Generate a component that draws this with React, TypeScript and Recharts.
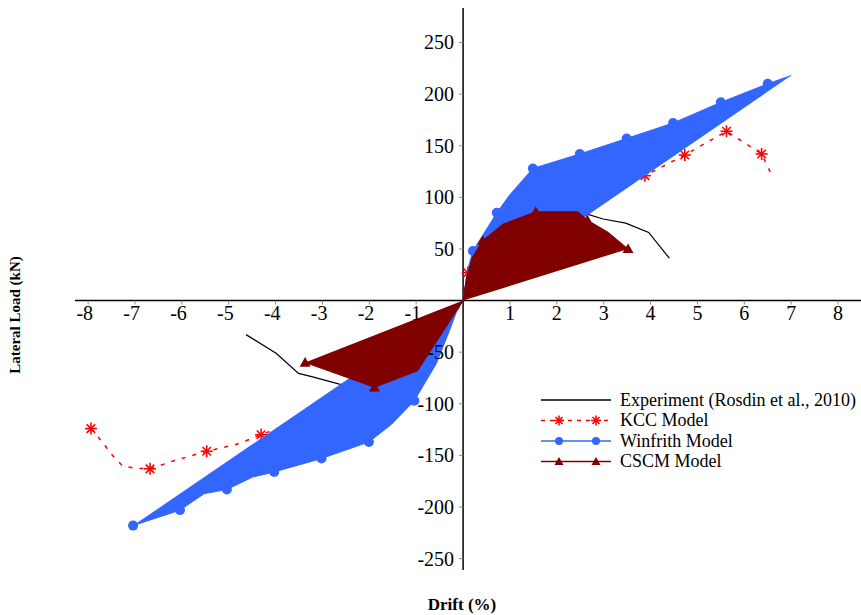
import React from "react";
import { ComposedChart, Scatter, XAxis, YAxis, ReferenceLine } from "recharts";

const W = 861;
const H = 615;
const M = { top: 8, right: 0, bottom: 44, left: 74 };
const X_DOMAIN: [number, number] = [-8.28, 8.49];
const Y_DOMAIN: [number, number] = [-261, 283.4];

const FONT = '"Liberation Serif", "Times New Roman", Times, serif';
const BLUE = "#3366ff";
const DARKRED = "#800000";
const RED = "#ff0000";

const xTicks = [-8, -7, -6, -5, -4, -3, -2, -1, 1, 2, 3, 4, 5, 6, 7, 8];
const yTicks = [-250, -200, -150, -100, -50, 50, 100, 150, 200, 250];

// [drift %, load kN, marker?]
const experiment = [
  [-4.63, -33], [-3.99, -51], [-3.51, -70.6], [-3.21, -74], [-2.64, -81],
  [-2.0, -84], [-1.0, -60], [-0.3, -20], [0, 0], [0.3, 35], [1.0, 65],
  [2.0, 82], [2.5, 86], [2.63, 84], [2.99, 79], [3.47, 75], [3.96, 66], [4.4, 41],
];

const kcc = [
  [-7.94, -124, 1], [-7.7, -137], [-7.48, -150], [-7.27, -160], [-6.98, -162.5],
  [-6.68, -163, 1], [-6.16, -155], [-5.47, -146, 1], [-4.81, -139], [-4.31, -130, 1],
  [-3.2, -110, 1], [-2.2, -88, 1], [-1.2, -60, 1], [-0.3, -22], [0, 0],
  [0.1, 27, 1], [0.9, 65, 1], [2.0, 90, 1], [3.0, 106, 1], [3.88, 121, 1],
  [4.73, 141, 1], [5.62, 164, 1], [6.37, 142, 1], [6.56, 124],
];

const winfrithPos = [
  [0, 0], [0.1, 30], [0.21, 48, 1], [0.72, 85, 1], [0.99, 102], [1.49, 128, 1],
  [2.49, 142, 1], [3.49, 157, 1], [4.48, 172, 1], [5.5, 192, 1], [6.5, 210, 1], [7.0, 218],
];
const winfrithNeg = [
  [0, 0], [-0.1, -6], [-0.29, -29], [-0.57, -61], [-1.04, -97, 1], [-1.53, -120],
  [-2.01, -137, 1], [-3.02, -153, 1], [-4.03, -166, 1], [-4.49, -171], [-5.04, -183, 1],
  [-5.52, -187], [-6.04, -203, 1], [-7.04, -218, 1],
];

const cscmPos = [
  [0, 0], [0.07, 22], [0.2, 42], [0.42, 58, 1], [0.85, 74], [1.55, 86, 1],
  [2.45, 86], [2.65, 78, 1], [3.1, 66], [3.52, 50, 1],
];
const cscmNeg = [[0, 0], [-0.97, -68], [-1.89, -84, 1], [-3.37, -60, 1]];

const pts = (a: number[][]) => a.map(([x, y, m]) => ({ x, y, m: !!m }));

// where the zero lines fall inside the plot area (axes cross at the origin)
const plotL = M.left + 1;
const plotW = W - plotL - M.right;
const plotH = H - M.top - M.bottom - 1;
const zeroX = plotL + (plotW * (0 - X_DOMAIN[0])) / (X_DOMAIN[1] - X_DOMAIN[0]);
const zeroY = M.top + (plotH * Y_DOMAIN[1]) / (Y_DOMAIN[1] - Y_DOMAIN[0]);

function XTick({ x, payload }: any) {
  return (
    <g>
      <line x1={x} x2={x} y1={zeroY} y2={zeroY + 4} stroke="#888" />
      <text x={x + 5} y={zeroY + 19} textAnchor="end" fontSize={20} fontFamily={FONT} fill="#000">
        {payload.value}
      </text>
    </g>
  );
}

function YTick({ y, payload }: any) {
  return (
    <g>
      <line x1={zeroX} x2={zeroX - 4} y1={y} y2={y} stroke="#888" />
      <text x={zeroX - 9} y={y} dy="0.35em" textAnchor="end" fontSize={20} fontFamily={FONT} fill="#000">
        {payload.value}
      </text>
    </g>
  );
}

const NoShape = () => <g />;

function Star({ cx, cy, payload, r = 6 }: any) {
  if (payload && !payload.m) return <g />;
  return (
    <g stroke={RED} strokeWidth={1.6}>
      {[0, 45, 90, 135].map((a) => {
        const t = (a * Math.PI) / 180;
        return (
          <line key={a} x1={cx - r * Math.cos(t)} y1={cy - r * Math.sin(t)} x2={cx + r * Math.cos(t)} y2={cy + r * Math.sin(t)} />
        );
      })}
    </g>
  );
}

function Dot({ cx, cy, payload, r = 5 }: any) {
  if (payload && !payload.m) return <g />;
  return <circle cx={cx} cy={cy} r={r} fill={BLUE} />;
}

function Tri({ cx, cy, payload, s = 5.5 }: any) {
  if (payload && !payload.m) return <g />;
  return <polygon points={`${cx},${cy - s} ${cx - s},${cy + s * 0.75} ${cx + s},${cy + s * 0.75}`} fill={DARKRED} />;
}

const legendRows = [
  { name: "Experiment (Rosdin et al., 2010)", color: "#000", dash: undefined, marker: null },
  { name: "KCC Model", color: RED, dash: "4 5", marker: "star" },
  { name: "Winfrith Model", color: BLUE, dash: undefined, marker: "dot" },
  { name: "CSCM Model", color: DARKRED, dash: undefined, marker: "tri" },
];

function Overlay() {
  return (
    <svg width={W} height={H} style={{ position: "absolute", left: 0, top: 0, pointerEvents: "none" }}>
      <text
        transform={`translate(20, 315) rotate(-90)`}
        textAnchor="middle"
        fontSize={15}
        fontWeight="bold"
        fontFamily={FONT}
      >
        Lateral Load (kN)
      </text>
      <text x={462} y={610} textAnchor="middle" fontSize={17} fontWeight="bold" fontFamily={FONT}>
        Drift (%)
      </text>
      {legendRows.map((row, i) => {
        const y = 400 + i * 20.5;
        return (
          <g key={row.name}>
            <line x1={541} x2={611} y1={y} y2={y} stroke={row.color} strokeWidth={1.3} strokeDasharray={row.dash} />
            {[559, 596].map((mx) =>
              row.marker === "star" ? (
                <Star key={mx} cx={mx} cy={y} r={5} />
              ) : row.marker === "dot" ? (
                <Dot key={mx} cx={mx} cy={y} r={4} />
              ) : row.marker === "tri" ? (
                <Tri key={mx} cx={mx} cy={y} s={4.5} />
              ) : null
            )}
            <text x={620} y={y} dy="0.33em" fontSize={18} fontFamily={FONT}>
              {row.name}
            </text>
          </g>
        );
      })}
    </svg>
  );
}

export default function App() {
  return (
    <div style={{ position: "absolute", left: 0, top: 0, width: W, height: H, background: "#fff" }}>
      <ComposedChart width={W} height={H} margin={M}>
        <XAxis
          type="number"
          dataKey="x"
          domain={X_DOMAIN}
          allowDataOverflow
          ticks={xTicks}
          interval={0}
          height={1}
          axisLine={false}
          tickLine={false}
          tick={<XTick />}
        />
        <YAxis
          type="number"
          dataKey="y"
          domain={Y_DOMAIN}
          allowDataOverflow
          ticks={yTicks}
          interval={0}
          width={1}
          axisLine={false}
          tickLine={false}
          tick={<YTick />}
        />
        <ReferenceLine y={0} stroke="#000" strokeWidth={1.5} />
        <ReferenceLine x={0} stroke="#000" strokeWidth={1.5} />
        <Scatter
          name="Experiment"
          data={pts(experiment)}
          fill="#000"
          line={{ stroke: "#000", strokeWidth: 1.2 }}
          lineJointType="linear"
          shape={NoShape}
          isAnimationActive={false}
        />
        <Scatter
          name="KCC Model"
          data={pts(kcc)}
          fill={RED}
          line={{ stroke: RED, strokeWidth: 1.5, strokeDasharray: "4 7" }}
          lineJointType="linear"
          shape={Star}
          isAnimationActive={false}
        />
        <Scatter
          name="Winfrith Model"
          data={pts(winfrithPos)}
          fill={BLUE}
          line={{ stroke: BLUE, strokeWidth: 1, fill: BLUE }}
          lineJointType="linear"
          shape={Dot}
          isAnimationActive={false}
        />
        <Scatter
          name="Winfrith Model neg"
          data={pts(winfrithNeg)}
          fill={BLUE}
          line={{ stroke: BLUE, strokeWidth: 1, fill: BLUE }}
          lineJointType="linear"
          shape={Dot}
          isAnimationActive={false}
        />
        <Scatter
          name="CSCM Model"
          data={pts(cscmPos)}
          fill={DARKRED}
          line={{ stroke: DARKRED, strokeWidth: 1, fill: DARKRED }}
          lineJointType="linear"
          shape={Tri}
          isAnimationActive={false}
        />
        <Scatter
          name="CSCM Model neg"
          data={pts(cscmNeg)}
          fill={DARKRED}
          line={{ stroke: DARKRED, strokeWidth: 1, fill: DARKRED }}
          lineJointType="linear"
          shape={Tri}
          isAnimationActive={false}
        />
      </ComposedChart>
      <Overlay />
    </div>
  );
}
